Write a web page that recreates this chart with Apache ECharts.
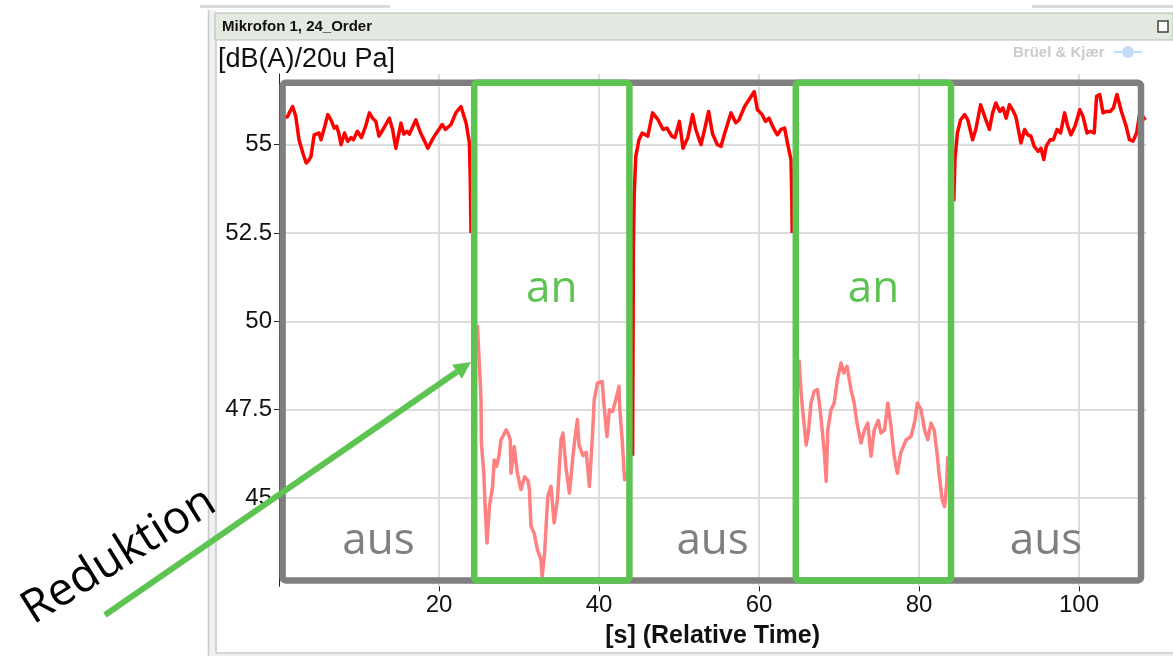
<!DOCTYPE html>
<html>
<head>
<meta charset="utf-8">
<script src="https://cdn.jsdelivr.net/npm/echarts@6/dist/echarts.min.js"></script>
<style>
  html, body { margin: 0; padding: 0; background: #ffffff; }
  #chart { width: 1173px; height: 656px; }
</style>
</head>
<body>
<div id="chart"></div>
<script>
// Level of the 24th order at microphone 1, in dB(A) re 20 µPa, over relative time [s].
// Red: system off ("aus"), light red: system on ("an").
const aus1 = [[0.6,55.75],[1.08,55.8],[1.4,55.95],[1.7,56.08],[2.1,55.8],[2.5,55.14],[3.0,54.75],[3.4,54.48],[3.7,54.55],[4.0,54.67],[4.4,55.28],[5.0,55.33],[5.25,55.14],[5.7,55.5],[6.1,55.85],[6.5,55.7],[6.9,55.47],[7.2,55.52],[7.5,55.3],[7.75,55.0],[8.2,55.33],[8.6,55.09],[9.0,55.2],[9.3,55.14],[9.8,55.38],[10.3,55.2],[10.8,55.5],[11.3,55.9],[11.7,55.75],[12.1,55.66],[12.5,55.24],[13.1,55.47],[13.8,55.75],[14.2,55.43],[14.6,54.9],[15.25,55.61],[15.6,55.3],[16.0,55.38],[16.3,55.3],[17.1,55.7],[17.7,55.33],[18.2,55.1],[18.6,54.9],[19.3,55.2],[19.9,55.4],[20.4,55.57],[20.8,55.43],[21.5,55.57],[22.1,55.9],[22.75,56.08],[23.4,55.6],[23.8,55.05],[23.9,54.1],[24.0,52.5]];
const an1 = [[24.8,49.9],[25.0,49.0],[25.25,47.78],[25.3,46.56],[25.6,45.7],[25.8,44.6],[26.0,43.73],[26.3,44.76],[26.7,45.33],[26.9,46.08],[27.2,45.9],[27.5,46.2],[27.75,46.65],[28.1,46.8],[28.4,46.93],[28.7,46.8],[28.9,46.65],[29.0,45.7],[29.4,46.46],[29.8,45.7],[30.25,45.24],[30.7,45.6],[31.1,45.5],[31.3,45.24],[31.5,44.2],[31.9,44.0],[32.3,43.54],[32.75,43.25],[32.9,42.78],[33.2,43.44],[33.6,45.05],[34.0,45.33],[34.4,44.3],[34.8,44.95],[35.25,46.65],[35.5,46.84],[35.9,45.8],[36.3,45.14],[36.75,46.2],[37.0,46.7],[37.3,47.22],[37.5,46.5],[38.0,46.2],[38.4,46.3],[38.8,45.33],[39.2,46.84],[39.4,47.78],[39.8,48.25],[40.4,48.3],[40.6,47.7],[41.0,46.74],[41.3,47.5],[41.7,47.45],[42.1,47.78],[42.5,48.16],[42.6,47.5],[42.9,46.65],[43.2,45.52],[43.5,45.7]];
const aus2 = [[44.2,46.2],[44.25,49.0],[44.3,52.0],[44.4,53.6],[44.6,54.67],[45.0,55.14],[45.4,55.33],[46.1,55.24],[46.7,55.9],[47.4,55.7],[48.0,55.43],[48.5,55.47],[49.1,55.24],[49.5,55.2],[50.05,55.66],[50.5,54.9],[51.1,55.2],[51.7,55.85],[52.1,55.43],[52.75,55.0],[53.2,55.43],[53.7,55.94],[54.2,55.3],[54.8,55.0],[55.25,54.95],[55.6,55.24],[56.5,55.9],[57.1,55.62],[57.5,55.7],[58.2,56.08],[58.75,56.27],[59.4,56.5],[59.8,55.99],[60.4,55.85],[60.8,55.66],[61.25,55.75],[61.9,55.43],[62.3,55.28],[62.75,55.43],[63.2,55.47],[63.6,55.0],[64.0,54.58],[64.1,53.45],[64.15,52.5]];
const an2 = [[65.0,48.92],[65.3,47.88],[65.5,47.4],[65.9,46.5],[66.2,46.93],[66.5,47.69],[66.9,48.02],[67.3,48.07],[67.6,47.6],[67.9,46.93],[68.2,46.18],[68.4,45.47],[68.6,46.93],[69.0,47.5],[69.4,47.69],[69.8,48.35],[70.25,48.82],[70.6,48.54],[71.0,48.73],[71.5,48.07],[71.9,47.69],[72.25,47.12],[72.75,46.56],[73.2,46.93],[73.6,47.12],[74.0,46.18],[74.4,46.93],[74.9,47.2],[75.25,46.84],[75.7,46.93],[76.1,47.69],[76.5,47.03],[76.9,46.18],[77.3,45.7],[77.7,46.27],[78.4,46.65],[79.0,46.74],[79.5,47.2],[79.8,47.69],[80.25,47.5],[80.7,46.93],[81.1,46.65],[81.5,47.12],[81.9,46.93],[82.3,46.18],[82.5,45.7],[82.9,44.95],[83.2,44.76],[83.45,45.4],[83.6,46.18]];
const aus3 = [[84.35,53.4],[84.5,54.6],[84.8,55.33],[85.2,55.7],[85.7,55.85],[86.1,55.7],[86.7,55.14],[87.1,55.43],[87.7,56.13],[88.2,55.8],[88.8,55.43],[89.2,55.9],[89.6,56.18],[90.1,55.94],[90.5,56.04],[90.9,55.75],[91.3,56.13],[91.7,55.99],[92.1,55.8],[92.5,55.33],[92.75,55.05],[93.2,55.43],[93.6,55.28],[94.0,55.24],[94.4,54.95],[94.9,54.81],[95.25,54.9],[95.6,54.58],[95.9,54.95],[96.4,55.14],[96.8,55.14],[97.25,55.43],[97.7,55.33],[98.2,55.9],[98.6,55.52],[99.0,55.28],[99.5,55.52],[100.1,55.99],[100.5,55.8],[101.0,55.33],[101.4,55.38],[101.9,55.33],[102.2,56.37],[102.6,56.42],[103.0,55.9],[103.4,55.94],[103.9,55.94],[104.3,56.04],[104.75,56.42],[105.3,55.94],[105.9,55.52],[106.3,55.14],[106.75,55.1],[107.2,55.33],[107.6,55.9],[108.3,55.7]];

// Measurement span and the two "on" intervals [s]; level band framed by the boxes [dB]
const measureSpan = [0.45, 107.75];
const onIntervals = [[24.4, 43.8], [64.6, 84.0]];
const frameLevels = [42.67, 56.75];

// Axis ticks
const xTicks = [20, 40, 60, 80, 100];
const yTicks = [45, 47.5, 50, 52.5, 55];

const GREEN = '#5dc452';
const GRAY = '#7f7f7f';

// "aus" intervals are the gaps between the "on" intervals
const offIntervals = [
  [measureSpan[0], onIntervals[0][0]],
  [onIntervals[0][1], onIntervals[1][0]],
  [onIntervals[1][1], measureSpan[1]]
];

const boxData = [[measureSpan[0], measureSpan[1], frameLevels[0], frameLevels[1], 0]]
  .concat(onIntervals.map(iv => [iv[0], iv[1], frameLevels[0], frameLevels[1], 1]));

const phaseLabelData = offIntervals.map(iv => ({ value: [(iv[0] + iv[1]) / 2, 43.76], name: 'aus', label: { color: GRAY } }))
  .concat(onIntervals.map(iv => ({ value: [(iv[0] + iv[1]) / 2, 50.9], name: 'an', label: { color: GREEN } })));

const chart = echarts.init(document.getElementById('chart'), null, { renderer: 'canvas' });

function lineSeries(data, color) {
  return {
    type: 'line', data: data, showSymbol: false, symbol: 'none', z: 2,
    lineStyle: { color: color, width: 3.5, join: 'round' }, itemStyle: { color: color },
    emphasis: { disabled: true }, silent: true
  };
}

// Arrow pointing at the drop of the level
const tip = [471, 362], tail = [105, 615];
const dx = tip[0] - tail[0], dy = tip[1] - tail[1];
const len = Math.sqrt(dx * dx + dy * dy);
const ux = dx / len, uy = dy / len, nx = -uy, ny = ux;
const headLen = 17, headHalf = 8.5;
const base = [tip[0] - headLen * ux, tip[1] - headLen * uy];

const option = {
  animation: false,
  backgroundColor: '#ffffff',
  grid: { left: 279, top: 74, width: 867.2, height: 512.4, containLabel: false, outerBoundsMode: 'none' },
  xAxis: {
    type: 'value', min: 0, max: 108.4, interval: 20,
    name: '[s] (Relative Time)', nameLocation: 'middle', nameGap: 37,
    nameTextStyle: { fontFamily: 'Liberation Sans', fontSize: 25, fontWeight: 'bold', color: '#111' },
    axisLine: { show: false },
    axisTick: { show: true, length: 5, customValues: xTicks, lineStyle: { color: '#222', width: 1 } },
    axisLabel: { customValues: xTicks, margin: 7,
      fontFamily: 'Liberation Sans', fontSize: 24, color: '#111' },
    splitLine: { show: true, lineStyle: { color: '#dcdcdc', width: 2 } }
  },
  yAxis: {
    type: 'value', min: 42.5, max: 57, interval: 2.5,
    axisLine: { show: true, lineStyle: { color: '#222', width: 1 } },
    axisTick: { show: true, length: 5, customValues: yTicks, lineStyle: { color: '#222', width: 1 } },
    axisLabel: { customValues: yTicks, margin: 7,
      fontFamily: 'Liberation Sans', fontSize: 24, color: '#111' },
    splitLine: { show: true, lineStyle: { color: '#dcdcdc', width: 2 } }
  },
  series: [
    lineSeries(aus1, '#ff0000'),
    lineSeries(an1, '#ff8080'),
    lineSeries(aus2, '#ff0000'),
    lineSeries(an2, '#ff8080'),
    lineSeries(aus3, '#ff0000'),
    {
      type: 'custom', z: 5, clip: false, silent: true,
      data: boxData,
      renderItem: function (params, api) {
        const p0 = api.coord([api.value(0), api.value(3)]);
        const p1 = api.coord([api.value(1), api.value(2)]);
        return {
          type: 'rect',
          shape: { x: p0[0], y: p0[1], width: p1[0] - p0[0], height: p1[1] - p0[1], r: 3 },
          style: { fill: 'none', stroke: api.value(4) === 1 ? GREEN : GRAY, lineWidth: 6.5 }
        };
      }
    },
    {
      type: 'scatter', z: 6, symbolSize: 0, silent: true,
      data: phaseLabelData,
      label: {
        show: true, position: 'inside', opacity: 1,
        formatter: p => p.name,
        fontFamily: 'Open Sans', fontSize: 44
      },
      itemStyle: { color: 'transparent', opacity: 1 }
    }
  ],
  graphic: [
    // window frame
    { type: 'rect', shape: { x: 200, y: 5, width: 190, height: 3 }, style: { fill: '#d9d9d9' }, silent: true },
    { type: 'rect', shape: { x: 1032, y: 5, width: 141, height: 3 }, style: { fill: '#d9d9d9' }, silent: true },
    { type: 'rect', shape: { x: 209, y: 10, width: 7, height: 646 }, style: { fill: '#f0f0f0' }, silent: true },
    { type: 'line', shape: { x1: 208.5, y1: 10, x2: 208.5, y2: 656 }, style: { stroke: '#c8c8c8', lineWidth: 1.5 }, silent: true },
    { type: 'line', shape: { x1: 216, y1: 40, x2: 216, y2: 653 }, style: { stroke: '#c8c8c8', lineWidth: 1.5 }, silent: true },
    { type: 'rect', shape: { x: 216, y: 653, width: 957, height: 3 }, style: { fill: '#f0f0f0' }, silent: true },
    { type: 'line', shape: { x1: 216, y1: 653, x2: 1173, y2: 653 }, style: { stroke: '#c8c8c8', lineWidth: 1.5 }, silent: true },
    // panel header
    { type: 'rect', shape: { x: 215, y: 13, width: 958, height: 27 }, style: { fill: '#e4e9e2', stroke: '#afc0af', lineWidth: 1 }, silent: true },
    { type: 'text', x: 222, y: 27, style: { text: 'Mikrofon 1, 24_Order', fontFamily: 'Liberation Sans', fontSize: 15, fontWeight: 'bold', fill: '#111', verticalAlign: 'middle' }, silent: true },
    { type: 'rect', shape: { x: 1158, y: 21, width: 10, height: 11 }, style: { fill: '#ffffff', stroke: '#444', lineWidth: 1.5 }, silent: true },
    // maker label
    { type: 'text', x: 1013, y: 53, style: { text: 'Brüel & Kjær', fontFamily: 'Liberation Sans', fontSize: 15, fontWeight: 'bold', fill: '#cbcbcb', verticalAlign: 'middle' }, silent: true },
    { type: 'circle', shape: { cx: 1128, cy: 52, r: 6 }, style: { fill: '#c4dcf6' }, silent: true },
    { type: 'line', shape: { x1: 1114, y1: 52, x2: 1142, y2: 52 }, style: { stroke: '#c4dcf6', lineWidth: 2 }, silent: true },
    // unit
    { type: 'text', x: 218, y: 60, style: { text: '[dB(A)/20u Pa]', fontFamily: 'Liberation Sans', fontSize: 27, fill: '#111', verticalAlign: 'middle' }, silent: true },
    // arrow
    { type: 'line', z: 20, shape: { x1: tail[0], y1: tail[1], x2: base[0], y2: base[1] }, style: { stroke: GREEN, lineWidth: 6 }, silent: true },
    { type: 'polygon', z: 20, shape: { points: [tip, [base[0] + headHalf * nx, base[1] + headHalf * ny], [base[0] - headHalf * nx, base[1] - headHalf * ny]] }, style: { fill: GREEN }, silent: true },
    { type: 'text', z: 20, x: 119, y: 556, rotation: 32 * Math.PI / 180,
      style: { text: 'Reduktion', fontFamily: 'Open Sans', fontSize: 46, fill: '#000', align: 'center', verticalAlign: 'middle' }, silent: true }
  ]
};

chart.setOption(option);
</script>
</body>
</html>
